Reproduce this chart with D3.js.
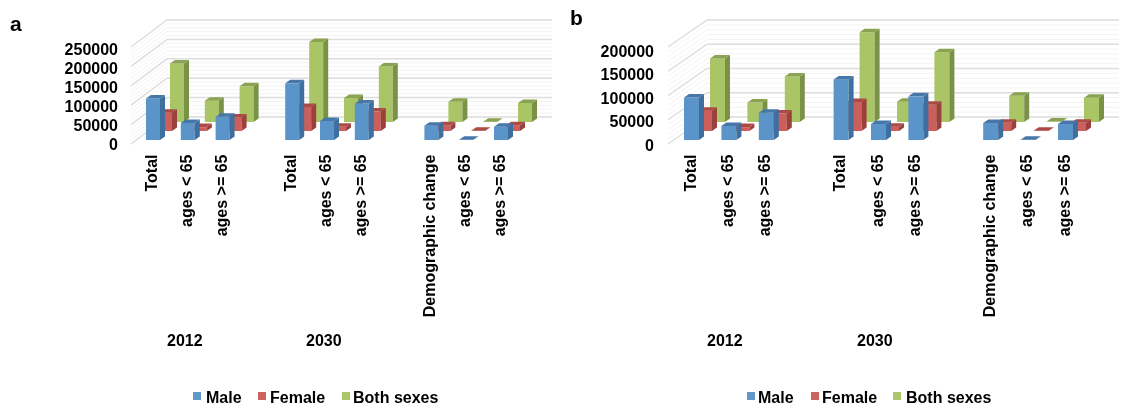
<!DOCTYPE html>
<html>
<head>
<meta charset="utf-8">
<script src="https://cdnjs.cloudflare.com/ajax/libs/d3/7.8.5/d3.min.js"></script>
<style>
html,body{margin:0;padding:0;background:#fff;}
svg{display:block;filter:blur(0.5px);}
text{font-family:"Liberation Sans",Arial,sans-serif;font-weight:bold;fill:#000;}
</style>
</head>
<body>
<svg id="chart" width="1127" height="417"></svg>
<script>
// ---- data ----
const categories = ["Total","ages < 65","ages >= 65","Total","ages < 65","ages >= 65","Demographic change","ages < 65","ages >= 65"];
const slots = [0,1,2,4,5,6,8,9,10];
const slotDomain = [0,1,2,3,4,5,6,7,8,9,10];
const seriesNames = ["Male","Female","Both sexes"];
const years = ["2012","2030"];

const maleA   = [107000,44000,60000,146000,49000,94000,37000,500,34000];
const femaleA = [47000,10000,35000,62000,11000,50000,15000,500,15000];
const bothA   = [151000,55000,92000,206000,62000,143000,52000,800,49000];
const ticksA  = [0,50000,100000,150000,200000,250000];

const maleB   = [87500,29000,56000,125000,33000,90000,35000,500,33000];
const femaleB = [42000,8000,36000,60000,9000,54000,17000,500,17000];
const bothB   = [131000,40000,94000,185000,42000,144000,54000,800,50000];
const ticksB  = [0,50000,100000,150000,200000];

// ---- styling ----
const palette = [
  {front:"#5b94c8", side:"#3f6f9f", top:"#4777a8", swatch:"#5f97c9"},
  {front:"#cc5f5b", side:"#9c403d", top:"#ad4a46", swatch:"#cc6360"},
  {front:"#a9c566", side:"#7a9245", top:"#8aa350", swatch:"#acc76b"}
];
const panels = [
  {letter:"a", letterX:10, letterY:31, series:[maleA,femaleA,bothA], ticks:ticksA, max:250000,
   frontX:131, backX:167, wallR:552, barX:146, step:34.8, barW:14, seriesDx:12,
   labelRight:118, labelY:[144,49], catDx:-1.5,
   yearX:[167,306], legendSw:[193,258,342], legendTx:[206,270,353]},
  {letter:"b", letterX:570, letterY:25, series:[maleB,femaleB,bothB], ticks:ticksB, max:200000,
   frontX:668, backX:707, wallR:1119, barX:684, step:37.4, barW:15, seriesDx:13,
   labelRight:654, labelY:[145,51], catDx:-1.5,
   yearX:[707,857], legendSw:[747,811,893], legendTx:[758,822,906]}
];
const floorFront = 144, depth = 27, plotH = 97, seriesDy = 9, capDx = 5, capDy = 3.5;

const svg = d3.select("#chart");

function drawPanel(p){
  const g = svg.append("g");
  const h = d3.scaleLinear().domain([0,p.max]).range([0,plotH]);
  const floorBack = floorFront - depth;

  // walls: minor then major gridlines
  const minor = d3.range(0,p.max+1,10000);
  [[minor,"#f3f3f3",1],[p.ticks,"#dedede",1.5]].forEach(([vals,col,sw])=>{
    g.append("g").selectAll("path").data(vals).join("path")
      .attr("fill","none").attr("stroke",col).attr("stroke-width",sw)
      .attr("d",d=>{
        const yb = floorBack - h(d), yf = floorFront - h(d);
        return `M${p.frontX},${yf}L${p.backX},${yb}L${p.wallR},${yb}`;
      });
  });

  // bars: from the back series to the front one
  const x = d3.scaleBand().domain(slotDomain)
    .range([p.barX, p.barX + 10*p.step + p.barW])
    .paddingInner(1 - p.barW/p.step).paddingOuter(0);

  [2,1,0].forEach(si=>{
    const c = palette[si];
    const base = floorFront - 4 - si*seriesDy;
    const rows = p.series[si].map((v,i)=>({v,slot:slots[i]}));
    const bar = g.append("g").selectAll("g").data(rows).join("g");
    const L = d=>x(d.slot)+si*p.seriesDx;
    const W = x.bandwidth();
    const T = d=>base-h(d.v);
    bar.append("rect").attr("x",L).attr("y",T).attr("width",W)
      .attr("height",d=>h(d.v)).attr("fill",c.front);
    bar.append("path").attr("fill",c.side)
      .attr("d",d=>`M${L(d)+W},${T(d)}l${capDx},${-capDy}V${base-capDy}l${-capDx},${capDy}Z`);
    bar.append("path").attr("fill",c.top)
      .attr("d",d=>`M${L(d)},${T(d)}l${capDx},${-capDy}h${W}l${-capDx},${capDy}Z`);
  });

  // value axis labels
  const yLabel = d3.scaleLinear().domain([0,p.max]).range(p.labelY);
  const axis = d3.axisLeft(yLabel).tickValues(p.ticks).tickSize(0).tickPadding(0).tickFormat(d3.format("d"));
  const ax = g.append("g").attr("transform",`translate(${p.labelRight},0)`).call(axis);
  ax.select(".domain").remove();
  ax.selectAll("text").style("font-size","16px").style("font-family",null).attr("fill",null);

  // category labels
  g.append("g").selectAll("text").data(categories).join("text")
    .attr("text-anchor","end").attr("font-size",16)
    .attr("transform",(d,i)=>`translate(${x(slots[i])+p.barW/2+p.catDx+5.5},154.5) rotate(-90)`)
    .text(d=>d);

  // year labels
  g.append("g").selectAll("text").data(years).join("text")
    .attr("x",(d,i)=>p.yearX[i]).attr("y",346).attr("font-size",16).text(d=>d);

  // legend
  const lg = g.append("g");
  lg.selectAll("rect").data(seriesNames).join("rect")
    .attr("x",(d,i)=>p.legendSw[i]).attr("y",392).attr("width",8).attr("height",8)
    .attr("fill",(d,i)=>palette[i].swatch);
  lg.selectAll("text").data(seriesNames).join("text")
    .attr("x",(d,i)=>p.legendTx[i]).attr("y",403).attr("font-size",16).text(d=>d);

  // panel letter
  g.append("text").attr("x",p.letterX).attr("y",p.letterY).attr("font-size",21).text(p.letter);
}
panels.forEach(drawPanel);
</script>
</body>
</html>
